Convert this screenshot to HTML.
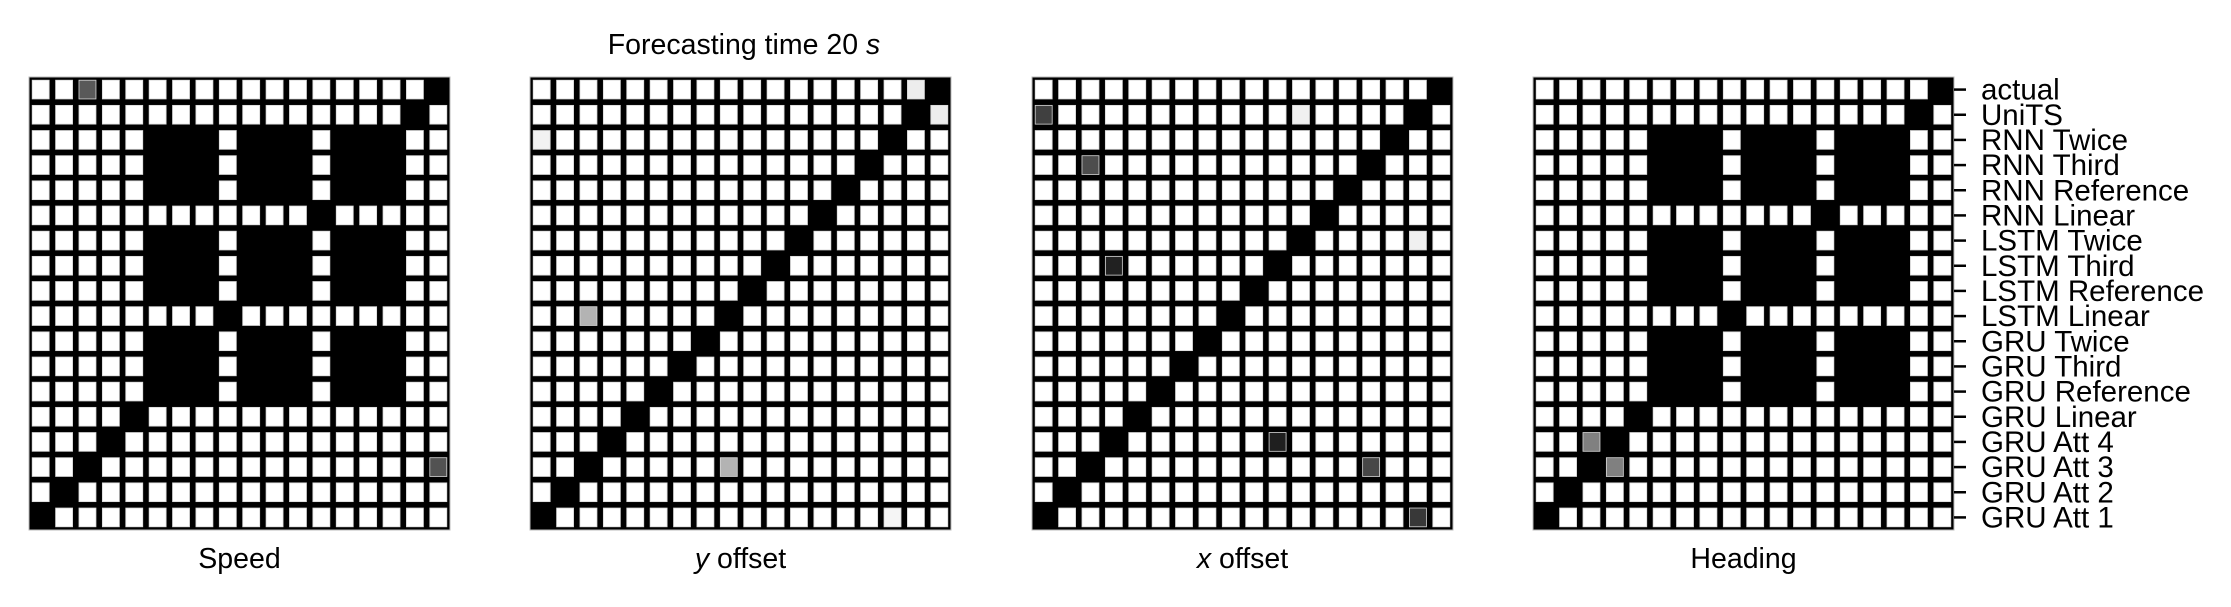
<!DOCTYPE html>
<html><head><meta charset="utf-8">
<style>
html,body{margin:0;padding:0;background:#fff;}
svg{display:block;font-family:"Liberation Sans",Arial,sans-serif;}
</style></head>
<body>
<svg id="chart" width="2231" height="607" viewBox="0 0 2231 607" xmlns="http://www.w3.org/2000/svg">
<text x="744" y="54" font-size="28.5" text-anchor="middle">Forecasting time 20 <tspan font-style="italic">s</tspan></text>
<g id="panels"></g>
</svg>
<script>
const models = ["actual","UniTS","RNN Twice","RNN Third","RNN Reference","RNN Linear","LSTM Twice","LSTM Third","LSTM Reference","LSTM Linear","GRU Twice","GRU Third","GRU Reference","GRU Linear","GRU Att 4","GRU Att 3","GRU Att 2","GRU Att 1"];
const panelTitles = ["Speed","y offset","x offset","Heading"];
const speedValues = [
[0,0,.65,0,0,0,0,0,0,0,0,0,0,0,0,0,0,1],
[0,0,0,0,0,0,0,0,0,0,0,0,0,0,0,0,1,0],
[0,0,0,0,0,1,1,1,0,1,1,1,0,1,1,1,0,0],
[0,0,0,0,0,1,1,1,0,1,1,1,0,1,1,1,0,0],
[0,0,0,0,0,1,1,1,0,1,1,1,0,1,1,1,0,0],
[0,0,0,0,0,0,0,0,0,0,0,0,1,0,0,0,0,0],
[0,0,0,0,0,1,1,1,0,1,1,1,0,1,1,1,0,0],
[0,0,0,0,0,1,1,1,0,1,1,1,0,1,1,1,0,0],
[0,0,0,0,0,1,1,1,0,1,1,1,0,1,1,1,0,0],
[0,0,0,0,0,0,0,0,1,0,0,0,0,0,0,0,0,0],
[0,0,0,0,0,1,1,1,0,1,1,1,0,1,1,1,0,0],
[0,0,0,0,0,1,1,1,0,1,1,1,0,1,1,1,0,0],
[0,0,0,0,0,1,1,1,0,1,1,1,0,1,1,1,0,0],
[0,0,0,0,1,0,0,0,0,0,0,0,0,0,0,0,0,0],
[0,0,0,1,0,0,0,0,0,0,0,0,0,0,0,0,0,0],
[0,0,1,0,0,0,0,0,0,0,0,0,0,0,0,0,0,.68],
[0,1,0,0,0,0,0,0,0,0,0,0,0,0,0,0,0,0],
[1,0,0,0,0,0,0,0,0,0,0,0,0,0,0,0,0,0]];
const yOffsetValues = [
[0,0,0,0,0,0,0,0,0,0,0,0,0,0,0,0,.07,1],
[0,0,0,0,0,0,0,0,0,0,0,0,0,0,0,0,1,.07],
[.05,0,0,0,0,0,0,0,0,0,0,0,0,0,0,1,0,0],
[0,0,0,0,0,0,0,0,0,0,0,0,0,0,1,0,0,0],
[0,0,0,0,0,0,0,0,0,0,0,0,0,1,0,0,0,0],
[0,0,0,0,0,0,0,0,0,0,0,0,1,0,0,0,0,0],
[0,0,0,0,0,0,0,0,0,0,0,1,0,0,0,0,0,0],
[0,0,0,0,0,0,0,0,0,0,1,0,0,0,0,0,0,0],
[0,0,0,0,0,0,0,0,0,1,0,0,0,0,0,0,0,0],
[0,0,.3,0,0,0,0,0,1,0,0,0,0,0,0,0,0,0],
[0,0,0,0,0,0,0,1,0,0,0,0,0,0,0,0,0,0],
[0,0,0,0,0,0,1,0,0,0,0,0,0,0,0,0,0,0],
[0,0,0,0,0,1,0,0,0,0,0,0,0,0,0,0,0,0],
[0,0,0,0,1,0,0,0,0,0,0,0,0,0,0,0,0,0],
[0,0,0,1,0,0,0,0,0,0,0,0,0,0,0,0,0,0],
[0,0,1,0,0,0,0,0,.3,0,0,0,0,0,0,0,0,0],
[0,1,0,0,0,0,0,0,0,0,0,0,0,0,0,0,0,0],
[1,0,0,0,0,0,0,0,0,0,0,0,0,0,0,.04,0,0]];
const xOffsetValues = [
[0,0,0,0,0,0,0,0,0,0,0,0,0,0,0,0,0,1],
[.75,0,0,0,0,0,0,0,0,0,0,.06,0,0,0,0,1,0],
[0,0,0,0,0,0,0,0,0,0,0,0,0,0,0,1,0,0],
[0,0,.7,0,0,0,0,0,0,0,0,0,0,0,1,0,0,0],
[0,0,0,0,0,0,0,0,0,0,0,0,0,1,0,0,0,0],
[0,0,0,0,0,0,0,0,0,0,0,0,1,0,0,0,0,0],
[0,0,0,0,0,0,0,0,0,0,0,1,0,0,0,0,.06,0],
[0,0,0,.87,0,0,0,0,0,0,1,0,0,0,0,0,0,0],
[0,0,0,0,0,0,0,0,0,1,0,0,0,0,0,0,0,0],
[0,0,0,0,0,0,0,0,1,0,0,0,0,0,0,0,0,0],
[0,0,0,0,0,0,0,1,0,0,0,0,0,0,0,0,0,0],
[0,0,0,0,0,0,1,0,0,0,0,0,0,0,0,0,0,0],
[0,0,0,0,0,1,0,0,0,0,0,0,0,0,0,0,0,0],
[0,0,0,0,1,0,0,0,0,0,0,0,0,0,0,0,0,0],
[0,0,0,1,0,0,0,0,0,0,.88,0,0,0,0,0,0,0],
[0,0,1,0,0,0,0,0,0,0,0,0,0,0,.72,0,0,0],
[0,1,0,0,0,0,0,0,0,0,0,0,0,0,0,0,0,0],
[1,0,0,0,0,0,0,0,0,0,0,0,0,0,0,0,.78,0]];
const headingValues = [
[0,0,0,0,0,0,0,0,0,0,0,0,0,0,0,0,0,1],
[0,0,0,0,0,0,0,0,0,0,0,0,0,0,0,0,1,0],
[0,0,0,0,0,1,1,1,0,1,1,1,0,1,1,1,0,0],
[0,0,0,0,0,1,1,1,0,1,1,1,0,1,1,1,0,0],
[0,0,0,0,0,1,1,1,0,1,1,1,0,1,1,1,0,0],
[0,0,0,0,0,0,0,0,0,0,0,0,1,0,0,0,0,0],
[0,0,0,0,0,1,1,1,0,1,1,1,0,1,1,1,0,0],
[0,0,0,0,0,1,1,1,0,1,1,1,0,1,1,1,0,0],
[0,0,0,0,0,1,1,1,0,1,1,1,0,1,1,1,0,0],
[0,0,0,0,0,0,0,0,1,0,0,0,0,0,0,0,0,0],
[0,0,0,0,0,1,1,1,0,1,1,1,0,1,1,1,0,0],
[0,0,0,0,0,1,1,1,0,1,1,1,0,1,1,1,0,0],
[0,0,0,0,0,1,1,1,0,1,1,1,0,1,1,1,0,0],
[0,0,0,0,1,0,0,0,0,0,0,0,0,0,0,0,0,0],
[0,0,.5,1,0,0,0,0,0,0,0,0,0,0,0,0,0,0],
[0,0,1,.5,0,0,0,0,0,0,0,0,0,0,0,0,0,0],
[0,1,0,0,0,0,0,0,0,0,0,0,0,0,0,0,0,0],
[1,0,0,0,0,0,0,0,0,0,0,0,0,0,0,0,0,0]];
const panelValues = [speedValues, yOffsetValues, xOffsetValues, headingValues];

const NS = "http://www.w3.org/2000/svg";
const panelLeft = [29, 530, 1032, 1533];
const plotTop = 77, plotW = 421, plotH = 453, inset = 3.2;
const root = document.getElementById("panels");
function mk(tag, attrs){ const e=document.createElementNS(NS,tag); for(const k in attrs) e.setAttribute(k,attrs[k]); return e; }

panelValues.forEach((mat, p) => {
  const n = models.length;
  const cw = plotW / n, ch = plotH / n;
  const x0 = panelLeft[p];
  const xScale = c => x0 + c * cw;
  const yScale = r => plotTop + r * ch;
  const g = mk("g", {});
  
  
  const bg = mk("rect", {x:x0, y:plotTop, width:plotW, height:plotH, fill:"#000", stroke:"#bbb", "stroke-width":1});
  
  
  g.appendChild(bg);
  mat.forEach((row, r) => {
    row.forEach((v, c) => {
      if (v >= 1) return;
      const lv = Math.round(255 * (1 - v));
      const cell = mk("rect", {x:xScale(c)+inset, y:yScale(r)+inset, width:cw-2*inset, height:ch-2*inset, fill:`rgb(${lv},${lv},${lv})`, stroke:"#d8d8d8", "stroke-width":0.8});
      
      
      g.appendChild(cell);
    });
  });
  const lbl = mk("text", {x:x0+plotW/2, y:568, "font-size":28.5, "text-anchor":"middle"});
  if (panelTitles[p] === "y offset" || panelTitles[p] === "x offset") {
    const t = mk("tspan", {"font-style":"italic"}); t.textContent = panelTitles[p][0];
    lbl.appendChild(t);
    lbl.appendChild(document.createTextNode(" offset"));
  } else lbl.textContent = panelTitles[p];
  
  
  g.appendChild(lbl);
  if (p === 3) {
    models.forEach((m, r) => {
      const yc = yScale(r) + ch/2;
      const tick = mk("line", {x1:x0+plotW, x2:x0+plotW+12, y1:yc, y2:yc, stroke:"#000", "stroke-width":2.5});
      
      
      g.appendChild(tick);
      const t = mk("text", {x:x0+plotW+27, y:yc+10, "font-size":29.5});
      t.textContent = m;
      
      
      g.appendChild(t);
    });
  }
  root.appendChild(g);
});
</script>
</body></html>
